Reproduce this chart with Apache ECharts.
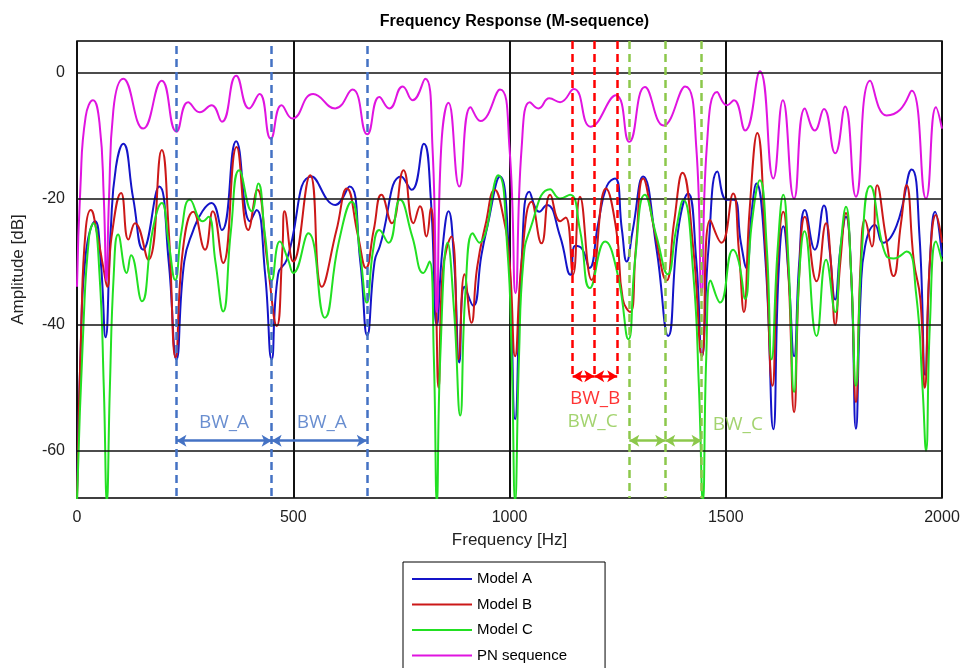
<!DOCTYPE html>
<html>
<head>
<meta charset="utf-8">
<script src="https://cdn.jsdelivr.net/npm/echarts@6/dist/echarts.min.js"></script>
<style>
html, body { margin: 0; padding: 0; background: #fff; }
#box { width: 966px; height: 668px; }
</style>
</head>
<body>
<div id="box"></div>
<script>
// [frequency Hz, amplitude dB]
const modelA = [[0,-67],[8,-45],[20,-29],[42,-23.6],[55,-30],[66,-42],[78,-25],[90,-15],[107,-11.3],[130,-20],[153,-28.1],[190,-18.1],[212,-30],[230,-45.5],[248,-30],[269,-25],[290,-22],[311,-20.7],[335,-25],[368,-10.9],[400,-23.6],[415,-21.8],[435,-32],[450,-45.5],[465,-32],[485,-29.7],[543,-16.5],[597,-21],[630,-18.1],[655,-30],[671,-41.7],[688,-30],[700,-27.6],[750,-16.5],[774,-18.6],[802,-11.3],[818,-20],[832,-40],[845,-28],[859,-22],[872,-30],[884,-46],[896,-34],[916,-37],[935,-29],[947,-25],[978,-16.5],[998,-28],[1013,-55],[1028,-30],[1046,-18.9],[1069,-22.1],[1086,-21],[1117,-26],[1141,-32.1],[1152,-27.5],[1168,-28],[1185,-31],[1205,-24],[1225,-18],[1244,-16.8],[1260,-25],[1271,-30],[1285,-25],[1309,-16.5],[1340,-28],[1367,-41.8],[1390,-25],[1413,-19.2],[1432,-30],[1445,-45],[1460,-28],[1481,-15.7],[1502,-20.2],[1519,-20.2],[1535,-27],[1548,-31],[1560,-22],[1571,-17.6],[1592,-30],[1610,-56.6],[1622,-32],[1633,-24.4],[1645,-32],[1658,-45],[1670,-30],[1683,-21.8],[1706,-28.1],[1727,-21.1],[1740,-28],[1753,-36],[1765,-28],[1778,-22.9],[1790,-32],[1801,-56.5],[1812,-35],[1822,-27.6],[1845,-24.2],[1864,-27],[1895,-24.3],[1930,-15.4],[1948,-26],[1961,-48],[1972,-30],[1984,-22.1],[2000,-29.2]];

const modelB = [[0,-68],[10,-40],[20,-25],[32,-21.8],[45,-25],[61,-31],[70,-34],[80,-26],[102,-19.1],[119,-26.5],[134,-23.9],[165,-29.7],[196,-12.3],[212,-25],[228,-45.2],[245,-28],[269,-22.1],[296,-28.1],[314,-22],[338,-30.2],[369,-11.8],[396,-25],[417,-18.6],[440,-30],[462,-40.2],[475,-28],[480,-22],[500,-30],[539,-16.3],[566,-34],[600,-25],[624,-18.4],[650,-26],[668,-31],[686,-25],[704,-19.4],[728,-23.9],[755,-15.5],[778,-23.9],[793,-21.2],[808,-26],[818,-21.5],[828,-32],[836,-50],[845,-32],[866,-26],[882,-45.5],[896,-32],[912,-39.7],[925,-31],[945,-24],[966,-18.6],[984,-22.3],[1000,-30],[1013,-45],[1028,-30],[1051,-20.5],[1074,-27.1],[1094,-19.4],[1117,-23.6],[1130,-23],[1147,-32],[1163,-19.7],[1190,-32.9],[1223,-18.4],[1247,-25],[1262,-36],[1279,-38],[1292,-28],[1309,-16.8],[1335,-25],[1363,-33],[1380,-24],[1400,-15.9],[1425,-28],[1445,-45],[1464,-23.4],[1490,-27],[1517,-19.2],[1530,-28],[1542,-38],[1555,-22],[1573,-9.6],[1592,-28],[1608,-49.7],[1620,-30],[1633,-22.1],[1645,-32],[1658,-53.9],[1670,-32],[1683,-22.9],[1710,-33.1],[1732,-23.9],[1743,-30],[1753,-40],[1765,-30],[1778,-22.3],[1790,-32],[1801,-52.3],[1812,-30],[1822,-23.4],[1838,-27.6],[1850,-17.9],[1870,-26],[1888,-32.3],[1905,-24],[1918,-17.9],[1935,-30],[1950,-36],[1960,-50],[1972,-30],[1986,-22.6],[2000,-27]];

const modelC = [[0,-68],[15,-40],[28,-26],[38,-23.9],[52,-32],[62,-50],[69,-68],[76,-50],[85,-32],[95,-25.7],[115,-31.8],[125,-29],[150,-36.3],[175,-25],[196,-20.7],[212,-27],[227,-32.9],[242,-25],[261,-20.2],[291,-23.6],[304,-22.9],[320,-30],[338,-37.9],[356,-25],[375,-15.5],[404,-22],[419,-17.6],[435,-26],[450,-33],[469,-26.8],[488,-29.7],[500,-31.8],[535,-25.5],[573,-38.9],[605,-27],[635,-20.5],[655,-29],[670,-36.5],[685,-28],[699,-25],[720,-27],[747,-20.2],[775,-26],[801,-31.8],[815,-30],[825,-45],[832,-68],[840,-45],[857,-27],[872,-38],[886,-54.4],[898,-35],[915,-25.5],[930,-27],[974,-16.3],[995,-28],[1005,-45],[1013,-68],[1022,-45],[1032,-30],[1047,-25],[1094,-18.5],[1117,-20],[1140,-19.4],[1163,-25],[1186,-34.2],[1221,-26.8],[1250,-32],[1275,-42.3],[1290,-30],[1313,-19.4],[1340,-26],[1366,-32],[1385,-25],[1402,-20.2],[1425,-32],[1438,-50],[1447,-68],[1455,-45],[1465,-33],[1487,-36.5],[1517,-28.1],[1530,-30],[1545,-35.9],[1560,-24],[1579,-17.1],[1595,-28],[1606,-45.5],[1620,-28],[1633,-19.4],[1645,-30],[1658,-50.7],[1670,-32],[1682,-25.2],[1710,-41.8],[1732,-29.7],[1753,-38],[1765,-28],[1778,-21.3],[1790,-32],[1801,-49.7],[1815,-28],[1834,-18],[1872,-29.2],[1888,-29.5],[1918,-28.4],[1940,-35],[1955,-50],[1963,-60],[1972,-40],[1986,-26.8],[2000,-30]];

const pnSeq = [[0,-34],[8,-18],[20,-7],[37,-4.4],[52,-8],[62,-20],[68,-33],[74,-20],[84,-6],[107,-1.0],[153,-8.9],[196,-1.3],[230,-9.4],[257,-4.7],[284,-6.3],[311,-5.2],[335,-7.8],[368,-0.5],[398,-5.7],[422,-3.4],[448,-10.5],[473,-5.2],[498,-7.3],[546,-3.4],[597,-5.7],[637,-2.7],[671,-9.8],[699,-3.9],[722,-5.7],[753,-2.2],[776,-4.4],[805,-1.0],[822,-12],[832,-38],[842,-12],[859,-4.8],[884,-18.1],[910,-5.5],[933,-7.7],[978,-2.7],[1000,-12],[1014,-35],[1028,-12],[1047,-4.7],[1067,-5.7],[1092,-4.1],[1117,-4.7],[1149,-2.6],[1188,-8.6],[1246,-3.6],[1277,-11.0],[1313,-2.3],[1356,-8.4],[1406,-2.2],[1432,-12],[1444,-35],[1456,-12],[1480,-3.1],[1503,-5.2],[1519,-4.4],[1545,-9.2],[1579,0.2],[1610,-16.8],[1632,-4.4],[1658,-20],[1683,-5.7],[1706,-9.2],[1727,-5.8],[1753,-12.8],[1776,-5.4],[1801,-19.7],[1834,-1.3],[1872,-6.8],[1903,-5.9],[1930,-2.9],[1963,-20],[1986,-5.5],[2000,-8.9]];

const seriesNames = ['Model A', 'Model B', 'Model C', 'PN sequence'];
const yTicks = [0, -20, -40, -60];

// bandwidth markers (Hz)
const bwA = [230, 450, 670];
const bwB = [1146, 1196, 1249];
const bwC = [1277, 1360, 1444];
const bwLabelsA = [[340, -55.6, 'BW_A'], [566, -55.6, 'BW_A']];
const bwLabelsB = [[1198, -51.7, 'BW_B']];
const bwLabelsC = [[1192, -55.4, 'BW_C'], [1528, -55.9, 'BW_C']];

const Y_MIN = -67.5, Y_MAX = 5;
const font = 'Liberation Sans, Arial, sans-serif';
const calibri = 'Open Sans, Liberation Sans, sans-serif';

function curve(name, data, color) {
	return {
		name: name,
		type: 'line',
		data: data,
		smooth: 0.5,
		showSymbol: false,
		symbol: 'none',
		z: 3,
		lineStyle: { color: color, width: 2 },
		itemStyle: { color: color }
	};
}

// empty line series that only carries markLines
function marks(lines, color, type, width, arrows, z) {
	return {
		type: 'line',
		data: [],
		silent: true,
		z: z,
		markLine: {
			silent: true,
			animation: false,
			symbol: arrows ? ['arrow', 'arrow'] : ['none', 'none'],
			symbolSize: arrows ? [9, 10] : 0,
			label: { show: false },
			lineStyle: { color: color, type: type, width: width },
			data: lines
		}
	};
}

function vlines(fs, top, bottom) {
	return fs.map(f => [{ coord: [f, top] }, { coord: [f, bottom] }]);
}
function arrowsBetween(fs, y) {
	let out = [];
	for (let i = 0; i < fs.length - 1; i++) out.push([{ coord: [fs[i], y] }, { coord: [fs[i + 1], y] }]);
	return out;
}
function labels(data, color) {
	return {
		type: 'scatter',
		data: data,
		symbolSize: 0,
		silent: true,
		z: 6,
		label: {
			show: true,
			position: 'inside',
			formatter: p => p.data[2],
			color: color,
			fontSize: 19,
			fontFamily: calibri
		}
	};
}

let myChart = echarts.init(document.getElementById('box'));
let option = {
	animation: false,
	backgroundColor: '#fff',
	title: {
		text: 'Frequency Response (M-sequence)',
		left: 509.5,
		textAlign: 'center',
		top: 9,
		textStyle: { fontFamily: font, fontSize: 16, fontWeight: 'bold', color: '#000' }
	},
	legend: {
		orient: 'vertical',
		left: 403,
		top: 562,
		height: 140,
		data: seriesNames,
		icon: 'rect',
		itemWidth: 60,
		itemHeight: 2,
		itemGap: 9.5,
		padding: [9, 38, 8, 9],
		borderColor: '#000',
		borderWidth: 1,
		backgroundColor: '#fff',
		textStyle: { fontFamily: font, fontSize: 15, color: '#000', lineHeight: 16 }
	},
	grid: {
		left: 77,
		right: 24,
		top: 41,
		bottom: 170,
		show: true,
		borderColor: '#000',
		borderWidth: 1.5
	},
	xAxis: {
		type: 'value',
		min: 0,
		max: 2000,
		interval: 500,
		name: 'Frequency [Hz]',
		nameLocation: 'middle',
		nameGap: 34,
		nameTextStyle: { fontFamily: font, fontSize: 17, color: '#222' },
		axisLine: { show: false },
		axisTick: { show: false },
		axisLabel: { fontFamily: font, fontSize: 16, color: '#222', margin: 12, formatter: v => String(v) },
		splitLine: { show: true, lineStyle: { color: '#111', width: 2 } }
	},
	yAxis: {
		type: 'value',
		min: Y_MIN,
		max: Y_MAX,
		name: 'Amplitude [dB]',
		nameLocation: 'middle',
		nameGap: 50,
		nameTextStyle: { fontFamily: font, fontSize: 17, color: '#222' },
		axisLine: { show: false },
		axisTick: { show: false },
		axisLabel: { fontFamily: font, fontSize: 16, color: '#222', margin: 12, customValues: yTicks },
		splitLine: { show: false }
	},
	series: [
		marks(yTicks.map(v => [{ coord: [0, v] }, { coord: [2000, v] }]), '#111', 'solid', 1.6, false, 1),
		curve(seriesNames[0], modelA, '#1414C8'),
		curve(seriesNames[1], modelB, '#CC1818'),
		curve(seriesNames[2], modelC, '#22E022'),
		curve(seriesNames[3], pnSeq, '#E014E0'),
		marks(vlines(bwA, 4.2, Y_MIN), '#4472C4', [8, 5], 2.5, false, 5),
		marks(arrowsBetween(bwA, -58.4), '#4472C4', 'solid', 2.5, true, 5),
		marks(vlines(bwB, Y_MAX, -48.4), '#FF0000', [8, 5], 2.5, false, 5),
		marks(arrowsBetween(bwB, -48.2), '#FF0000', 'solid', 2.5, true, 5),
		marks(vlines(bwC, Y_MAX, Y_MIN), '#8CC84B', [8, 5], 2.5, false, 5),
		marks(arrowsBetween(bwC, -58.4), '#8CC84B', 'solid', 2.5, true, 5),
		labels(bwLabelsA, '#4472C4'),
		labels(bwLabelsB, '#FF0000'),
		labels(bwLabelsC, '#8CC84B')
	]
};
myChart.setOption(option);
</script>
</body>
</html>
